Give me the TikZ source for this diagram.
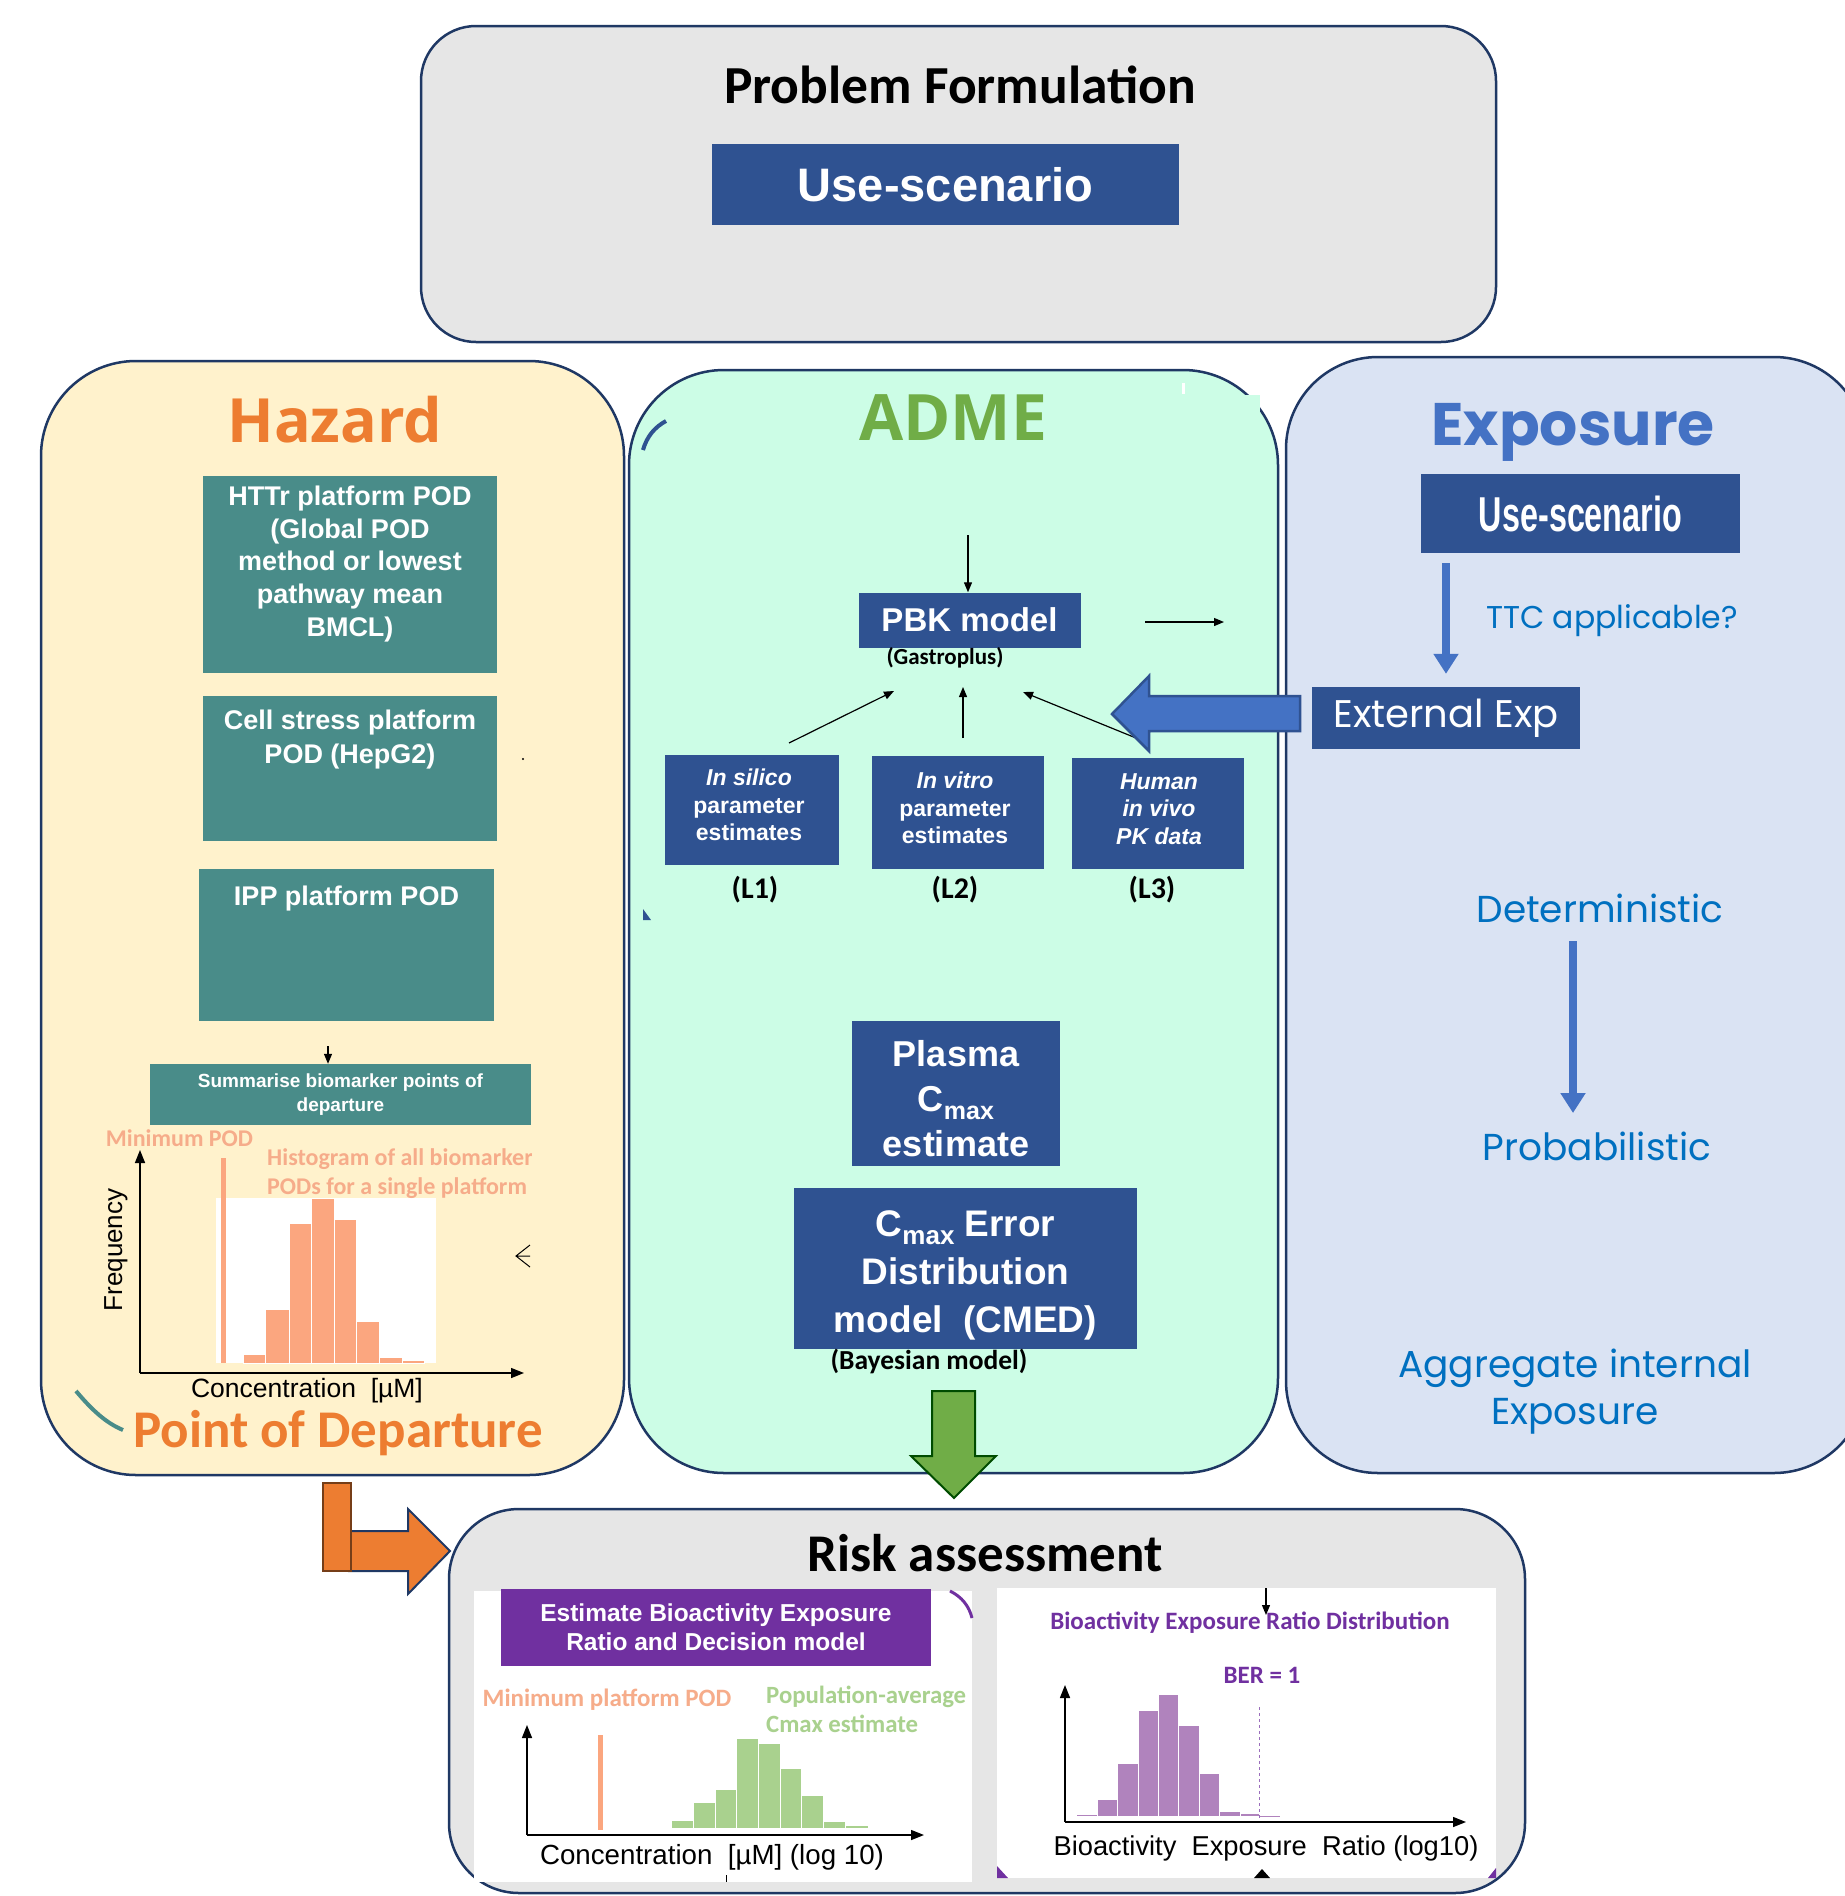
\documentclass[tikz,border=0pt]{standalone}
\usepackage{fontspec}
\usepackage{graphicx}
\setmainfont{Liberation Sans}
\newfontfamily\calib{Carlito}
\newfontfamily\headfont{Open Sans}
\newfontfamily\gothic{Poppins}
\usetikzlibrary{arrows.meta}

\definecolor{navy}{HTML}{1F3864}
\definecolor{boxblue}{HTML}{2F5291}
\definecolor{tealbg}{HTML}{498C89}
\definecolor{graybg}{HTML}{E6E6E6}
\definecolor{hazbg}{HTML}{FFF2CC}
\definecolor{admebg}{HTML}{CCFDE6}
\definecolor{expbg}{HTML}{DAE3F3}
\definecolor{orng}{HTML}{ED7D31}
\definecolor{grn}{HTML}{70AD47}
\definecolor{ltgrn}{HTML}{A9D18E}
\definecolor{salmon}{HTML}{FBA67F}
\definecolor{salmontxt}{HTML}{F6AC8A}
\definecolor{purp}{HTML}{7030A0}
\definecolor{ltpurp}{HTML}{B083BD}
\definecolor{arrowblue}{HTML}{4472C4}
\definecolor{txtblue}{HTML}{0070C0}

\newcommand{\fsz}[2]{\fontsize{#1}{#2}\selectfont}
\newcommand{\cmx}[2]{C{\fontsize{#1}{#1}\selectfont\raisebox{#2}{max}}}

\begin{document}
\begin{tikzpicture}[x=1pt,y=-1pt,
  panel/.style={draw=navy,line width=2.5pt},
  darkbox/.style={fill=boxblue,text=white,inner sep=0pt,align=center},
  tealbox/.style={fill=tealbg,inner sep=0pt},
  boxtext/.style={text=white,align=center,inner sep=0pt},
  conn/.style={-{Triangle[length=10pt,width=8pt]},line width=1.2pt},
  axis/.style={-{Triangle[length=13pt,width=10pt]},line width=1.5pt},
  bluearrow/.style={-{Triangle[length=20pt,width=24pt]},line width=8pt,draw=arrowblue},
  gothtext/.style={text=txtblue,inner sep=0pt,align=center,font=\gothic\fsz{37.5}{47}},
]
\useasboundingbox (0,0) rectangle (1845,1896);
\fill[white] (0,0) rectangle (1845,1896);

% Problem formulation
\draw[panel,fill=graybg,rounded corners=55pt] (421,26) rectangle (1496,342);
\node[anchor=base,font=\calib\bfseries\fsz{53.5}{62}] (probtitle) at (960,103) {Problem Formulation};
\node[darkbox,minimum width=467pt,minimum height=81pt,font=\bfseries\fsz{47}{56}] (usetop) at (945.5,184.5) {Use-scenario};

% Hazard panel
\draw[panel,fill=hazbg,rounded corners=95pt] (41,361) rectangle (624,1475);
\node[anchor=base,text=orng,font=\headfont\bfseries\fsz{61}{70}] (haztitle) at (335,442) {Hazard};
\node[tealbox,minimum width=294pt,minimum height=197pt] (httr) at (350,574.5) {};
\node[boxtext,font=\bfseries\fsz{27}{32.7}] (httrtxt) at (350,564) {HTTr platform POD\\(Global POD\\method or lowest\\pathway mean\\BMCL)};
\node[tealbox,minimum width=294pt,minimum height=145pt] (cell) at (350,768.5) {};
\node[boxtext,font=\bfseries\fsz{27}{34}] (celltxt) at (350,740) {Cell stress platform\\POD (HepG2)};
\node[tealbox,minimum width=295pt,minimum height=152pt] (ipp) at (346.5,945) {};
\node[boxtext,anchor=base,font=\bfseries\fsz{27}{32.7}] (ipptxt) at (346.5,905) {IPP platform POD};
\node[tealbox,boxtext,minimum width=381pt,minimum height=61pt,font=\bfseries\fsz{19}{23.5}] (summ) at (340.5,1094.5) {Summarise biomarker points of\\departure};
\coordinate (summin) at (328,1046);
\draw[conn] (summin) -- (summin |- summ.north);
\fill (523,759) circle (1.2);

% Hazard histogram
\fill[white] (216,1198) rectangle (436,1363);
\foreach \xa/\xb/\yt in {243/265/1354,265/289/1309,289/311/1223,311/334/1198,334/356/1219,356/379/1321,379/402/1357,402/424/1360}
  \draw[fill=salmon,draw=white,line width=0.6pt] (\xa,1363) rectangle (\xb,\yt);
\fill[salmon] (221,1158) rectangle (226,1363);
\draw[axis] (140,1373) -- (140,1150);
\draw[axis] (140,1373) -- (524,1373);
\node[text=salmontxt,font=\calib\bfseries\fsz{24}{28}] (minpod) at (179.5,1138) {Minimum POD};
\begin{scope}
  \clip (260,1140) rectangle (531,1210);
  \node[anchor=west,align=left,inner sep=0pt,text=salmontxt,font=\calib\bfseries\fsz{24}{29}] (histlab) at (267,1174) {Histogram of all biomarker\\PODs for a single platform};
\end{scope}
\node[rotate=90,font=\fsz{26}{30}] (freq) at (116,1250) {Frequency};
\node[font=\fsz{26.5}{30}] (conc) at (307,1391) {Concentration\ \ [µM]};
\node[anchor=base,text=orng,font=\calib\bfseries\fsz{53}{60}] (pod) at (338,1447) {Point of Departure};
\draw[tealbg,line width=4pt] (76,1391) .. controls (92,1410) and (106,1423) .. (123,1430);
\draw[line width=1pt] (530,1245) -- (516,1256) -- (530,1267) (516,1256) -- (530,1256);

% ADME panel
\draw[panel,fill=admebg,rounded corners=95pt] (629,370) rectangle (1278,1473);
\fill[admebg] (1150,395) rectangle (1260,440);
\fill[white] (1182,383) rectangle (1185,394);
\draw[boxblue,line width=4pt] (643,450) .. controls (647,436) and (655,427) .. (666,421);
\fill[boxblue] (643,909) -- (643,920) -- (651,920) -- cycle;
\node[anchor=base,text=grn,font=\headfont\bfseries\fsz{64}{74}] (admetitle) at (953,440) {ADME};
\node[darkbox,minimum width=222pt,minimum height=55pt,font=\bfseries\fsz{33}{40}] (pbk) at (969.5,620) {PBK model};
\node[inner sep=0pt,font=\calib\bfseries\fsz{23}{26}] (gastro) at (945,658) {(Gastroplus)};
\coordinate (pbkin) at (968,535);
\coordinate (pbkout) at (1145,622);
\coordinate (pbkend) at (1224,622);
\draw[conn] (pbkin) -- (pbkin |- pbk.north);
\draw[conn] (pbkout) -- (pbkend);
\node[darkbox,minimum width=174pt,minimum height=110pt] (l1) at (752,810) {};
\node[boxtext,font=\bfseries\fsz{23}{27.5}] (l1txt) at (749,805) {\itshape In silico\\parameter\\estimates};
\node[darkbox,minimum width=172pt,minimum height=113pt] (l2) at (958,812.5) {};
\node[boxtext,font=\bfseries\fsz{23}{27.5}] (l2txt) at (955,808) {\itshape In vitro\\parameter\\estimates};
\node[darkbox,minimum width=172pt,minimum height=111pt] (l3) at (1158,813.5) {};
\node[boxtext,font=\bfseries\itshape\fsz{23}{27.5}] (l3txt) at (1159,809) {Human\\in vivo\\PK data};
\node[font=\calib\bfseries\fsz{30}{34}] (lab1) at (755,890) {(L1)};
\node[font=\calib\bfseries\fsz{30}{34}] (lab2) at (955,890) {(L2)};
\node[font=\calib\bfseries\fsz{30}{34}] (lab3) at (1152,890) {(L3)};
\coordinate (l1a) at (789,743);
\coordinate (l1b) at (894,691);
\coordinate (l2a) at (963,738);
\coordinate (l2b) at (963,687);
\coordinate (l3a) at (1136,738);
\coordinate (l3b) at (1023,692);
\draw[conn] (l1a) -- (l1b);
\draw[conn] (l2a) -- (l2b);
\draw[conn] (l3a) -- (l3b);
\node[darkbox,minimum width=208pt,minimum height=145pt] (plasma) at (956,1093.5) {};
\node[boxtext,font=\bfseries\fsz{36}{45}] (plasmatxt) at (956,1099) {Plasma\\\cmx{25}{-8pt}\\estimate};
\node[darkbox,minimum width=343pt,minimum height=161pt] (cmed) at (965.5,1268.5) {};
\node[boxtext,font=\bfseries\fsz{37}{48}] (cmedtxt) at (965.5,1275) {\cmx{26}{-8pt} Error\\Distribution\\model\ \ (CMED)};
\node[inner sep=0pt,font=\calib\bfseries\fsz{27.5}{30}] (bayes) at (929,1361) {(Bayesian model)};

% Exposure panel
\begin{scope}
\clip (0,0) rectangle (1845,1896);
\draw[panel,fill=expbg,rounded corners=92pt] (1286,357) rectangle (1866,1473);
\end{scope}
\node[anchor=base,text=arrowblue,font=\gothic\bfseries\fsz{60}{70}] (exptitle) at (1573,445) {Exposure};
\node[darkbox,minimum width=319pt,minimum height=79pt,font=\bfseries\fsz{49}{56}] (useexp) at (1580.5,513.5) {\scalebox{0.66}[1]{Use-scenario}};
\node[darkbox,minimum width=268pt,minimum height=62pt,font=\gothic\fsz{38.5}{44}] (ext) at (1446,718) {External Exp};
\draw[bluearrow,shorten <=10pt,shorten >=13pt] (ext.north |- useexp.south) -- (ext.north);
\node[gothtext,font=\gothic\fsz{31.5}{36}] (ttc) at (1612,621) {TTC applicable?};
\node[gothtext] (det) at (1600,908) {Deterministic};
\node[gothtext] (prob) at (1597,1146) {Probabilistic};
\coordinate (dtop) at (1573,941);
\coordinate (dbot) at (1573,1113);
\draw[bluearrow] (dtop) -- (dbot);
\node[gothtext] (aggr) at (1575,1392) {Aggregate internal\\Exposure};

% block arrows
\draw[fill=arrowblue,draw=boxblue,line width=2.5pt] (1112,714) -- (1149,676) -- (1149,696) -- (1300,696) -- (1300,731) -- (1149,731) -- (1149,751) -- cycle;
\draw[fill=grn,draw=green!30!black,line width=2pt] (932,1391) -- (975,1391) -- (975,1456) -- (996,1456) -- (954,1498) -- (911,1456) -- (932,1456) -- cycle;

% Risk assessment
\draw[panel,fill=graybg,rounded corners=70pt] (449,1509) rectangle (1525,1893);
\draw[fill=orng,draw=navy,line width=2pt] (349,1531) -- (408,1531) -- (408,1509) -- (450,1551) -- (408,1594) -- (408,1571) -- (349,1571) -- cycle;
\draw[fill=orng,draw=orng!50!black,line width=2pt] (323,1483) rectangle (351,1571);
\node[anchor=base,font=\calib\bfseries\fsz{53}{60}] (risktitle) at (985,1571) {Risk assessment};

% left plot
\fill[white] (474,1591) rectangle (972,1882);
\draw[purp,line width=3pt] (950,1591) .. controls (962,1597) and (969,1606) .. (972,1618);
\node[darkbox,fill=purp,minimum width=430pt,minimum height=77pt,font=\bfseries\fsz{24.5}{29}] (ber) at (716,1627) {Estimate Bioactivity Exposure\\Ratio and Decision model};
\node[text=salmontxt,font=\calib\bfseries\fsz{25}{28}] (minplat) at (607,1700) {Minimum platform POD};
\node[anchor=west,align=left,inner sep=0pt,text=ltgrn,font=\calib\bfseries\fsz{24.8}{29}] (popavg) at (766,1709) {Population-average\\Cmax estimate};
\foreach \xa/\xb/\yt in {648/671/1827,671/693/1820,693/715/1802,715/736/1789,736/758/1738,758/780/1743,780/801/1768,801/823/1795,823/845/1821,845/868/1825}
  \draw[fill=ltgrn,draw=white,line width=0.6pt] (\xa,1828) rectangle (\xb,\yt);
\fill[salmon] (598,1735) rectangle (603,1830);
\draw[axis] (527,1835) -- (527,1725);
\draw[axis] (527,1835) -- (924,1835);
\node[font=\fsz{27.7}{30}] (conclog) at (712,1857) {Concentration\ \ [µM] (log 10)};
\draw[line width=1pt] (726,1875) -- (726,1882);

% right plot
\fill[white] (997,1588) rectangle (1496,1878);
\fill[purp] (997,1866) -- (997,1878) -- (1008,1878) -- cycle;
\fill[purp] (1496,1868) -- (1496,1878) -- (1488,1878) -- cycle;
\coordinate (bertop) at (1266,1588);
\node[text=purp,font=\calib\bfseries\fsz{25}{30}] (berdist) at (1250,1623) {Bioactivity Exposure Ratio Distribution};
\draw[conn] (bertop) -- (1266,1615);
\node[text=purp,font=\calib\bfseries\fsz{25}{30}] (berone) at (1262,1675) {BER = 1};
\foreach \xa/\xb/\yt in {1076/1097/1814,1097/1117/1799,1117/1138/1763,1138/1158/1710,1158/1178/1694,1178/1199/1725,1199/1219/1773,1219/1240/1811,1240/1259/1813}
  \draw[fill=ltpurp,draw=white,line width=0.6pt] (\xa,1816) rectangle (\xb,\yt);
\draw[ltpurp,line width=1pt] (1259,1816) -- (1280,1816);
\draw[purp!70,line width=1pt,dashed] (1259,1707) -- (1259,1822);
\draw[axis] (1065,1822) -- (1065,1685);
\draw[axis] (1065,1822) -- (1466,1822);
\node[font=\fsz{27.3}{30}] (berlab) at (1266,1848) {Bioactivity\ \ Exposure\ \ Ratio (log10)};
\fill (1254,1878) -- (1262,1869) -- (1270,1878) -- cycle;
\end{tikzpicture}
\end{document}
